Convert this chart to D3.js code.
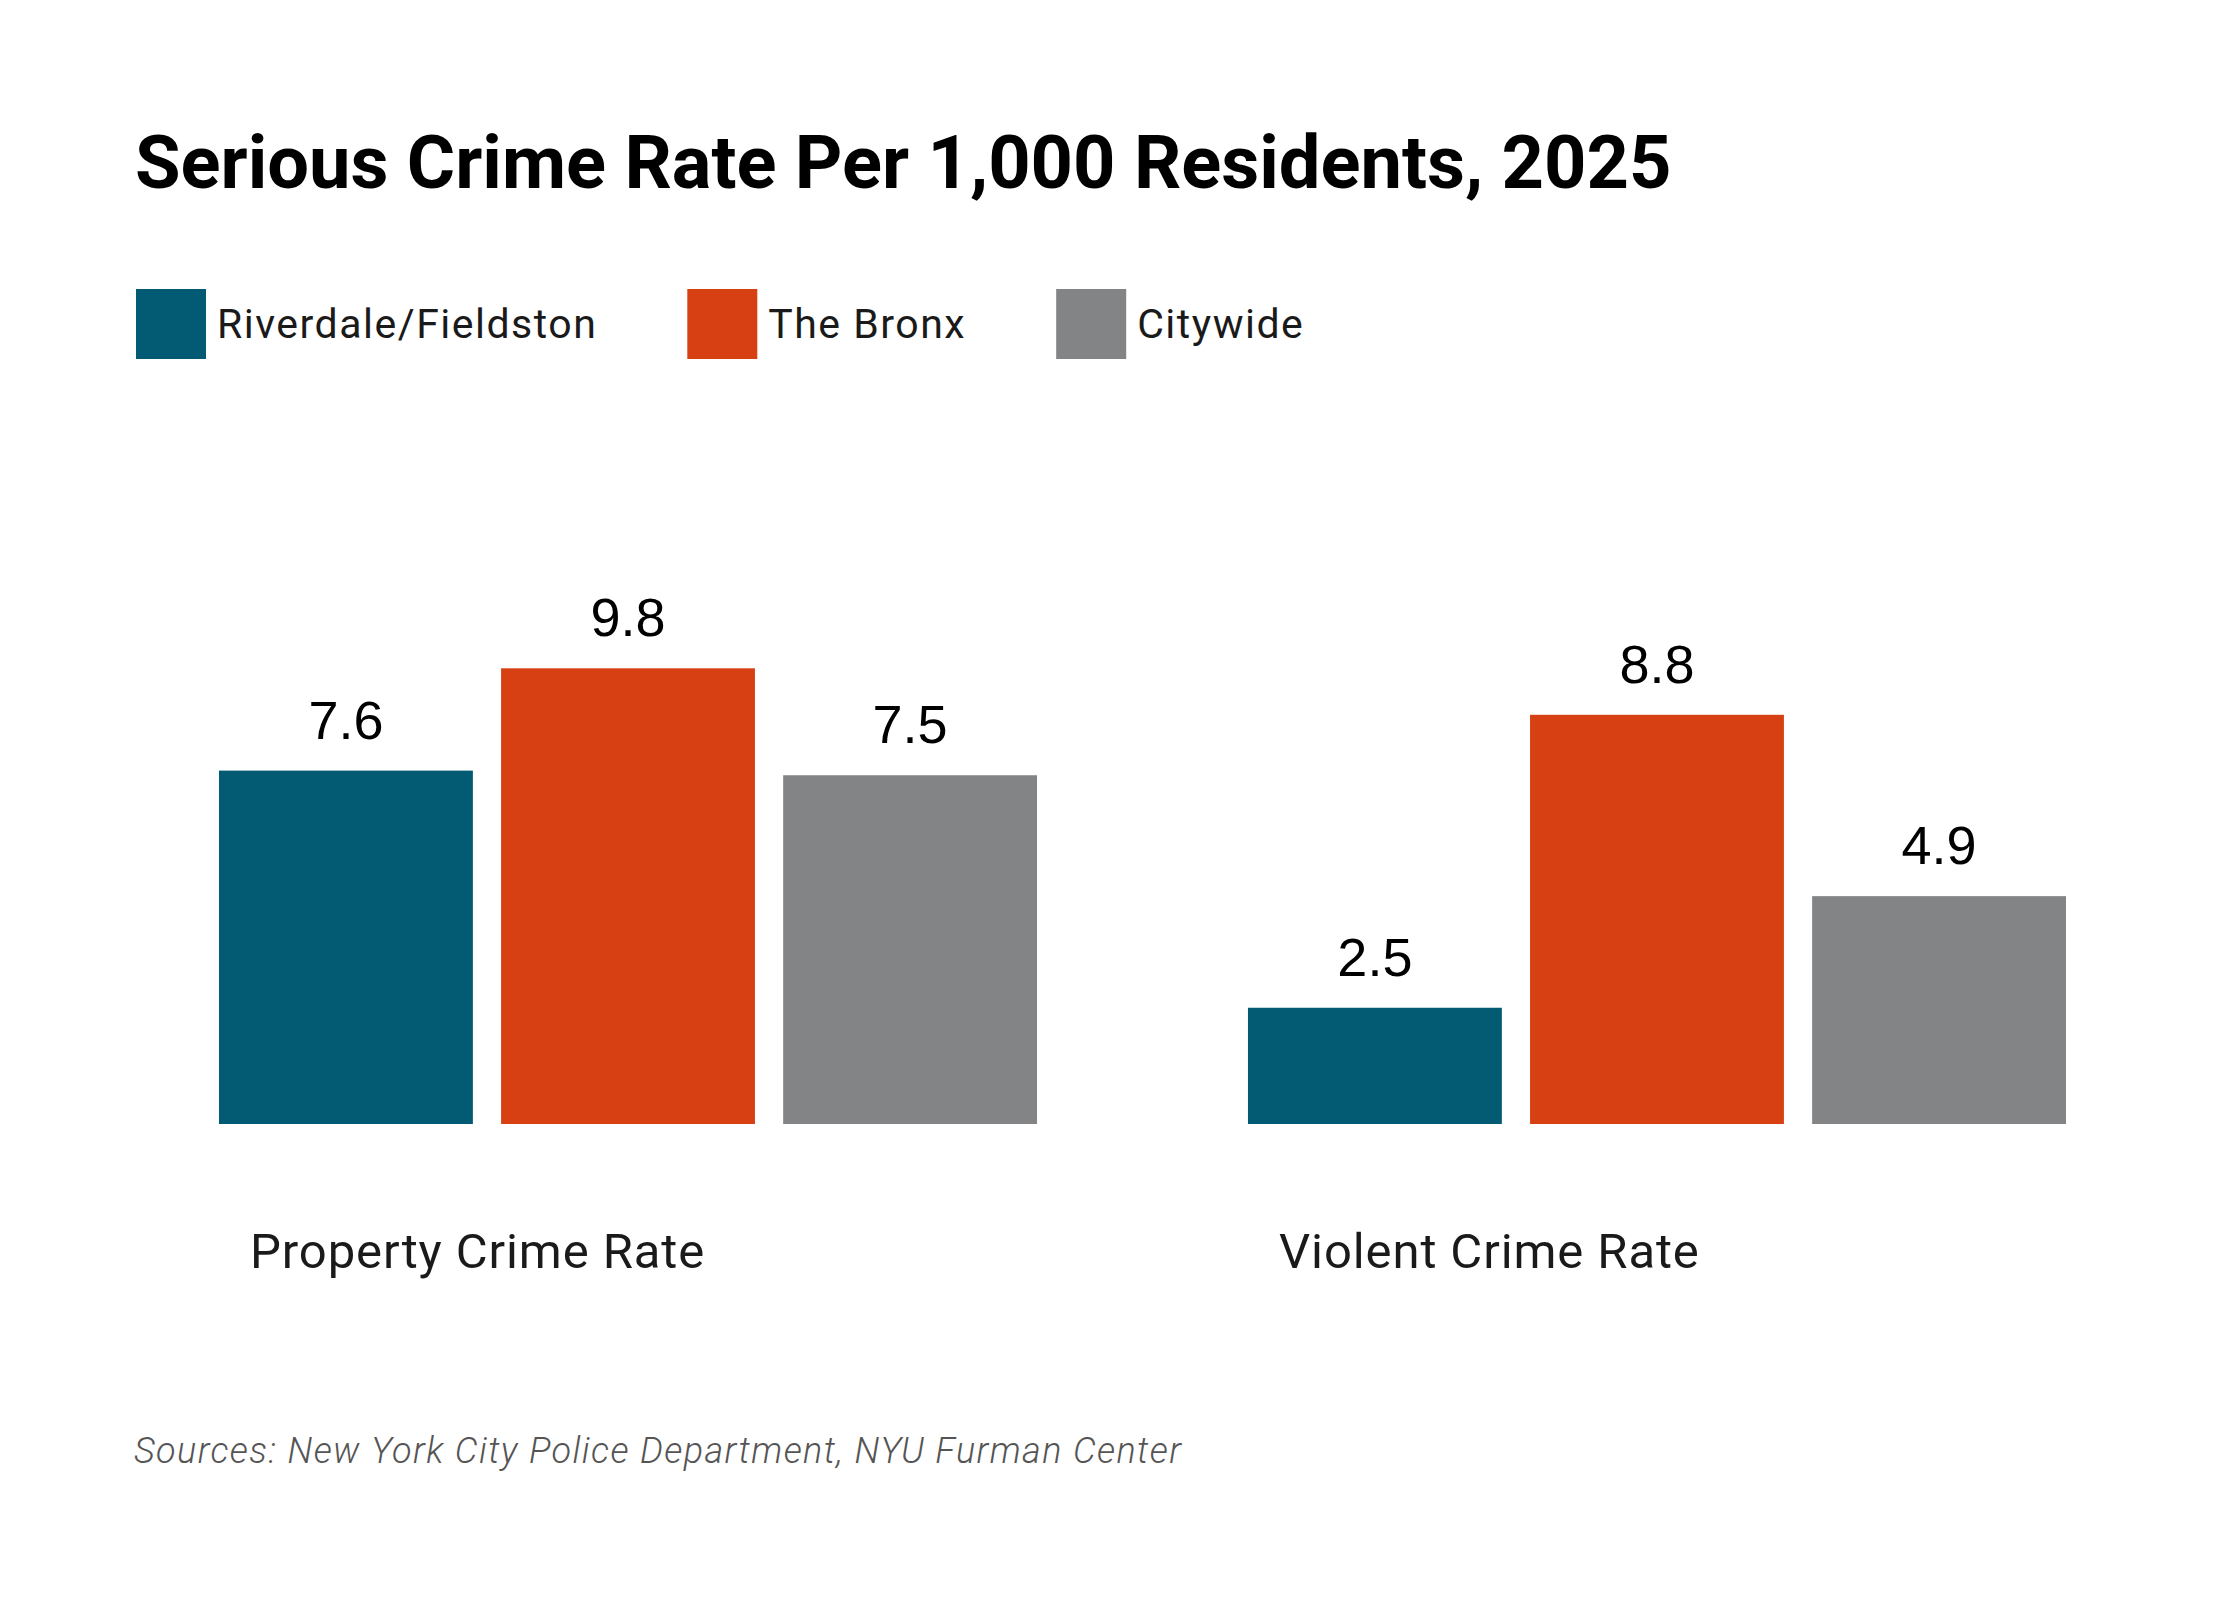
<!DOCTYPE html>
<html>
<head>
<meta charset="utf-8">
<style>
    body { margin: 0; background: #fff; }
    .title { font-family: "Roboto", sans-serif; font-weight: 700; fill: #000; }
    .legend-label, .cat-label { font-family: "Roboto", sans-serif; fill: #1a1a1a; }
    .legend-label { letter-spacing: 1.5px; }
    .cat-label { letter-spacing: 0.9px; }
    .value-label { font-family: "Liberation Sans", Arial, sans-serif; fill: #000; }
    .source { font-family: "Roboto", sans-serif; font-style: italic; font-weight: 300; fill: #555; letter-spacing: 1.4px; }
</style>
</head>
<body>
<div id="containerChart"></div>
<script src="https://cdn.jsdelivr.net/npm/d3@7"></script>
<script>
    var categories = ["Property Crime Rate", "Violent Crime Rate"];
    var seriesNames = ["Riverdale/Fieldston", "The Bronx", "Citywide"];
    var riverdaleValues = [7.6, 2.5];
    var bronxValues = [9.8, 8.8];
    var citywideValues = [7.5, 4.9];
    var seriesColors = ["#025a73", "#d64012", "#838486"];

    var svgWidth = 2240;
    var svgHeight = 1600;

    var svg = d3.select("#containerChart")
        .append("svg")
        .attr("width", svgWidth)
        .attr("height", svgHeight);

    // rows: one per category, one value per series
    var seriesValues = [riverdaleValues, bronxValues, citywideValues];
    var rows = categories.map(function (c, i) {
        return {
            category: c,
            values: seriesNames.map(function (s, j) {
                return { series: s, value: seriesValues[j][i], color: seriesColors[j] };
            })
        };
    });

    // scales
    var x0 = d3.scaleBand()
        .domain(categories)
        .range([219, 2066])
        .paddingInner(0.205)
        .paddingOuter(0);

    var x1 = d3.scaleBand()
        .domain(seriesNames)
        .range([0, x0.bandwidth()])
        .paddingInner(0.1)
        .paddingOuter(0);

    var baseY = 1124;
    var yScale = d3.scaleLinear()
        .domain([0, 10])
        .range([baseY, baseY - 465]);

    // title
    svg.append("text")
        .attr("class", "title")
        .attr("x", 135)
        .attr("y", 188)
        .style("font-size", "74px")
        .text("Serious Crime Rate Per 1,000 Residents, 2025");

    // legend, laid out left to right
    var legend = svg.append("g").attr("transform", "translate(136,289)");
    var legendX = 0;
    seriesNames.forEach(function (s, i) {
        var item = legend.append("g").attr("transform", "translate(" + legendX + ",0)");
        item.append("rect")
            .attr("width", 70)
            .attr("height", 70)
            .attr("fill", seriesColors[i]);
        var t = item.append("text")
            .attr("class", "legend-label")
            .attr("x", 81)
            .attr("y", 49)
            .style("font-size", "41px")
            .text(s);
        legendX += 81 + t.node().getComputedTextLength() + 90;
    });

    // bars
    var groups = svg.selectAll(".group")
        .data(rows)
        .enter().append("g")
        .attr("class", "group")
        .attr("transform", function (d) { return "translate(" + x0(d.category) + ",0)"; });

    groups.selectAll("rect")
        .data(function (d) { return d.values; })
        .enter().append("rect")
        .attr("x", function (d) { return x1(d.series); })
        .attr("y", function (d) { return yScale(d.value); })
        .attr("width", x1.bandwidth())
        .attr("height", function (d) { return baseY - yScale(d.value); })
        .attr("fill", function (d) { return d.color; });

    groups.selectAll(".value-label")
        .data(function (d) { return d.values; })
        .enter().append("text")
        .attr("class", "value-label")
        .attr("x", function (d) { return x1(d.series) + x1.bandwidth() / 2; })
        .attr("y", function (d) { return yScale(d.value) - 32; })
        .attr("text-anchor", "middle")
        .style("font-size", "54px")
        .text(function (d) { return d.value.toFixed(1); });

    // category labels
    groups.append("text")
        .attr("class", "cat-label")
        .attr("x", 31)
        .attr("y", 1268)
        .style("font-size", "49px")
        .text(function (d) { return d.category; });

    // source
    svg.append("text")
        .attr("class", "source")
        .attr("x", 134)
        .attr("y", 1463)
        .style("font-size", "36px")
        .text("Sources: New York City Police Department, NYU Furman Center");
</script>
</body>
</html>
